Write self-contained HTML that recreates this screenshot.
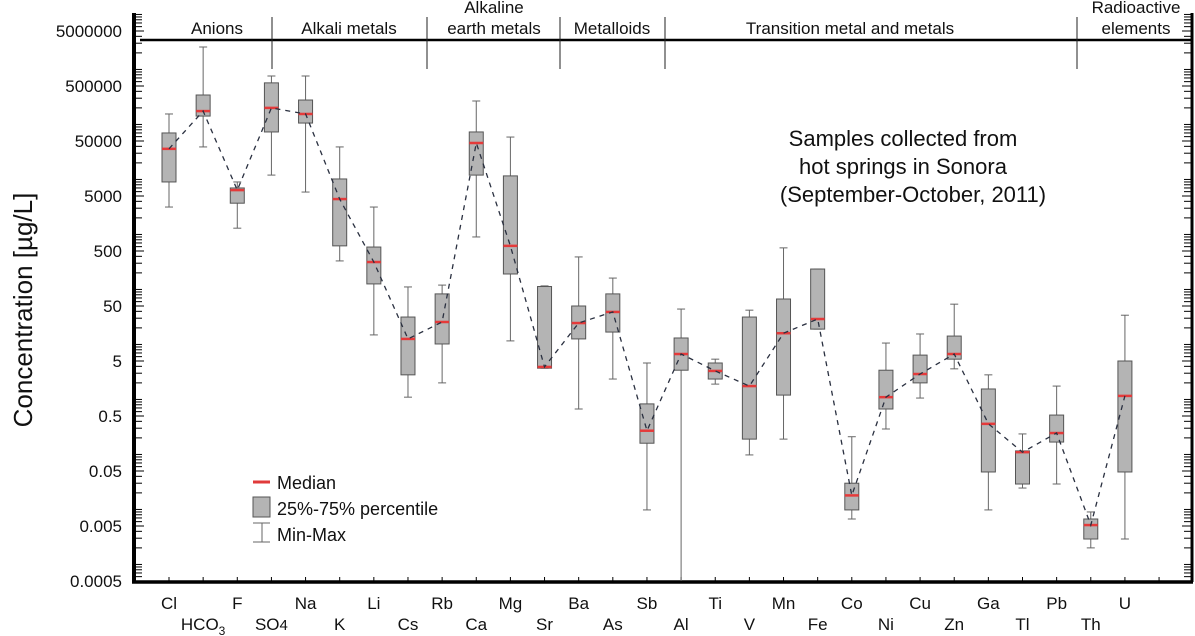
<!DOCTYPE html>
<html><head><meta charset="utf-8"><style>
body{margin:0;background:#fff;}
svg{display:block;font-family:"Liberation Sans",Arial,sans-serif;}
</style></head><body>
<svg id="chart" width="1195" height="636" viewBox="0 0 1195 636">
<g id="header"></g>
<g id="axes"></g>
<g id="marks"></g>
<text transform="translate(32,310) rotate(-90)" text-anchor="middle" font-size="26" fill="#111">Concentration [µg/L]</text>
<g font-size="22" fill="#111" text-anchor="middle">
<text x="903" y="146">Samples collected from</text>
<text x="903" y="174">hot springs in Sonora</text>
<text x="913" y="202">(September-October, 2011)</text>
</g>
<g font-size="18" fill="#111">
<g><line x1="253" y1="482" x2="270" y2="482" stroke="#e03a3a" stroke-width="3"/><text x="277" y="489">Median</text></g>
<g><rect x="253" y="497" width="17" height="20" fill="#b4b4b4" stroke="#555" stroke-width="1"/><text x="277" y="515">25%-75% percentile</text></g>
<g><line x1="262" y1="523" x2="262" y2="542" stroke="#666"/><line x1="253" y1="523" x2="270" y2="523" stroke="#666"/><line x1="253" y1="542" x2="270" y2="542" stroke="#666"/><text x="277" y="541">Min-Max</text></g>
</g>
</svg>
<script>
const categories=["Cl","HCO3","F","SO4","Na","K","Li","Cs","Rb","Ca","Mg","Sr","Ba","As","Sb","Al","Ti","V","Mn","Fe","Co","Ni","Cu","Zn","Ga","Tl","Pb","Th","U"];
const maxVals=[155000,2560000,9000,760000,760000,39000,3150,111,120,267000,59000,116,390,161,4.6,44,5.4,42,570,235,0.21,10.6,15.5,54,2.8,0.236,1.75,0.009,34];
const q3Vals=[70000,343000,7000,570000,278000,10200,590,31.5,83,73000,11600,113,50,83,0.83,13.1,4.6,31.5,67,235,0.030,3.4,6.4,14.2,1.55,0.116,0.52,0.0067,5];
const medVals=[36000,175000,6400,200000,155000,4400,315,12.6,25.6,46000,620,3.9,24.5,39,0.27,6.7,3.3,1.75,16,29,0.018,1.1,2.9,6.7,0.36,0.11,0.245,0.0052,1.16];
const q1Vals=[9000,142000,3700,73000,106000,620,126,2.8,10.2,12000,191,3.7,12.6,16.8,0.16,3.4,2.35,0.19,1.2,19,0.0098,0.67,2.0,5.4,0.048,0.029,0.168,0.0029,0.048];
const minVals=[3150,39000,1300,12000,5900,330,14.9,1.1,2.0,900,11.6,3.7,0.67,2.35,0.0098,0.0005,1.9,0.098,0.19,19,0.0067,0.29,1.06,3.6,0.0098,0.0245,0.029,0.002,0.0029];
const yTickLabels=["5000000","500000","50000","5000","500","50","5","0.5","0.05","0.005","0.0005"];
const groups=[{name:["Anions"],cx:217},{name:["Alkali metals"],cx:349},{name:["Alkaline","earth metals"],cx:494},{name:["Metalloids"],cx:612},{name:["Transition metal and metals"],cx:850},{name:["Radioactive","elements"],cx:1136}];
const separators=[272,427,560,665,1077];

const NS="http://www.w3.org/2000/svg";
const L=134,R=1192,B=582,T=13;
function y(v){return 361-Math.log10(v/5)*55;}
function x(i){return 169+i*34.14;}
function mk(tag,attrs,parent,txt){const e=document.createElementNS(NS,tag);for(const k in attrs)e.setAttribute(k,attrs[k]);if(txt!==undefined)e.textContent=txt;parent.appendChild(e);return e;}
const axes=document.getElementById('axes'),marks=document.getElementById('marks'),header=document.getElementById('header');

// header
let hl=mk('line',{x1:140,y1:40,x2:R,y2:40,stroke:'#000','stroke-width':2.5},header);


separators.forEach(sx=>{const s=mk('line',{x1:sx,y1:17,x2:sx,y2:69,stroke:'#222','stroke-width':1},header);

});
groups.forEach(g=>{const t=mk('text',{x:g.cx,'text-anchor':'middle','font-size':17,fill:'#111'},header);


g.name.forEach((n,k)=>{mk('tspan',{x:g.cx,y:g.name.length===2?(k===0?13:34):34},t,n);});});

// axes lines
mk('line',{x1:L,y1:T,x2:L,y2:B,stroke:'#000','stroke-width':4},axes);
mk('line',{x1:R,y1:T,x2:R,y2:B,stroke:'#000','stroke-width':3},axes);
mk('line',{x1:L-2,y1:B,x2:R+1,y2:B,stroke:'#000','stroke-width':3.5},axes);
// y ticks
for(let d=-4;d<=7;d++){for(let m=1;m<=9;m++){const v=m*Math.pow(10,d);const yy=y(v);if(yy>B||yy<T)continue;const len=(m===5)?10:8;
mk('line',{x1:L,y1:yy,x2:L+len,y2:yy,stroke:'#000','stroke-width':1},axes);
mk('line',{x1:R,y1:yy,x2:R-len,y2:yy,stroke:'#000','stroke-width':1},axes);}}
yTickLabels.forEach(s=>{const t=mk('text',{x:122,y:y(parseFloat(s))+6,'text-anchor':'end','font-size':17,fill:'#111'},axes,s);

});
// x ticks and labels
for(let i=0;i<=categories.length;i++){mk('line',{x1:x(i),y1:B,x2:x(i),y2:B-5,stroke:'#000','stroke-width':1},axes);}
categories.forEach((c,i)=>{const yy=(i%2===0)?609:630;const t=mk('text',{x:x(i),y:yy,'text-anchor':'middle','font-size':17,fill:'#111'},axes);


if(c==="HCO3"){mk('tspan',{},t,'HCO');mk('tspan',{'font-size':12,dy:5},t,'3');}
else if(c==="SO4"){mk('tspan',{},t,'SO');mk('tspan',{'font-size':15},t,'4');}
else t.textContent=c;});

// boxes
const bw=14;
categories.forEach((c,i)=>{const g=mk('g',{},marks);


const cx=x(i);
mk('line',{x1:cx,y1:Math.min(y(maxVals[i]),y(q3Vals[i])),x2:cx,y2:Math.min(B,y(minVals[i])),stroke:'#666','stroke-width':1},g);
mk('line',{x1:cx-4,y1:y(maxVals[i]),x2:cx+4,y2:y(maxVals[i]),stroke:'#666','stroke-width':1},g);
if(y(minVals[i])<B-1)mk('line',{x1:cx-4,y1:y(minVals[i]),x2:cx+4,y2:y(minVals[i]),stroke:'#666','stroke-width':1},g);
const top=y(q3Vals[i]),bot=y(q1Vals[i]);
mk('rect',{x:cx-bw/2,y:top,width:bw,height:Math.max(1,bot-top),fill:'#b4b4b4',stroke:'#555','stroke-width':1},g);
mk('line',{x1:cx-bw/2,y1:y(medVals[i]),x2:cx+bw/2,y2:y(medVals[i]),stroke:'#e53a3a','stroke-width':2.5},g);});
// median dashed line
const pts=medVals.map((v,i)=>x(i).toFixed(1)+','+y(v).toFixed(1)).join(' ');
const pl=mk('polyline',{points:pts,fill:'none',stroke:'#2a3040','stroke-width':1.3,'stroke-dasharray':'5,5'},marks);


</script>
</body></html>
